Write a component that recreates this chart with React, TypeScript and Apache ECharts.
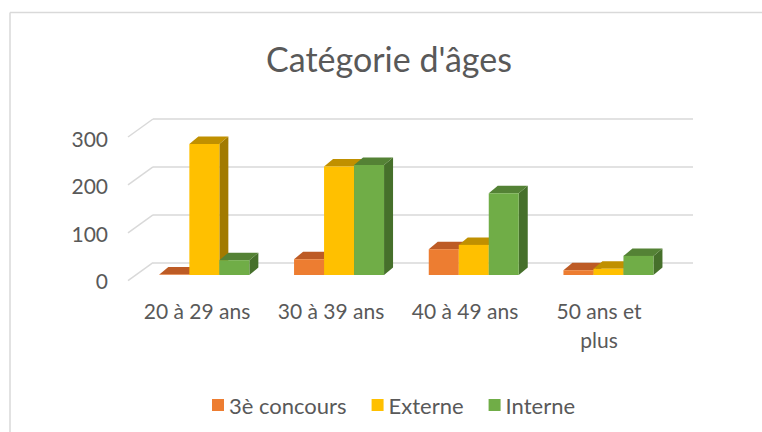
import React, { useEffect, useRef } from 'react';
import * as echarts from 'echarts';

const categories = ['20 à 29 ans', '30 à 39 ans', '40 à 49 ans', '50 ans et\nplus'];
const concours3 = [1, 33, 54, 10];
const externe = [274, 227, 63, 13];
const interne = [31, 230, 171, 40];
const yTicks = [0, 100, 200, 300];
const seriesNames = ['3è concours', 'Externe', 'Interne'];
const seriesValues = [concours3, externe, interne];
const chartTitle = "Catégorie d'âges";

const FONT = 'Lato, "Open Sans", sans-serif';
const TEXT = '#595959';
const GRID = '#d9d9d9';

const palette = [
  { front: '#ED7D31', top: '#BD5B25', side: '#A64F1E' },
  { front: '#FFC000', top: '#C09000', side: '#A27A00' },
  { front: '#70AD47', top: '#548235', side: '#46702B' },
];

const DX = 9;
const DY = -7.5;
const BAR_FRAC = 30 / 134.7;

function barRenderer(sIdx: number) {
  return (params: any, api: any) => {
    const cat = api.value(0);
    const v = api.value(1);
    const top = api.coord([cat, v]);
    const base = api.coord([cat, 0]);
    const band = api.size([1, 0])[0];
    const bw = band * BAR_FRAC;
    const x0 = top[0] + (sIdx - 1.5) * bw;
    const x1 = x0 + bw;
    const yt = top[1];
    const yb = base[1];
    const c = palette[sIdx];
    return {
      type: 'group',
      children: [
        { type: 'polygon', shape: { points: [[x1, yt], [x1 + DX, yt + DY], [x1 + DX, yb + DY], [x1, yb]] }, style: { fill: c.side } },
        { type: 'polygon', shape: { points: [[x0, yt], [x1, yt], [x1 + DX, yt + DY], [x0 + DX, yt + DY]] }, style: { fill: c.top } },
        { type: 'rect', shape: { x: x0, y: yt, width: bw, height: Math.max(0, yb - yt) }, style: { fill: c.front } },
      ],
    };
  };
}

export default function App() {
  const ref = useRef<HTMLDivElement>(null);
  useEffect(() => {
    document.body.style.margin = '0';
    const chart = echarts.init(ref.current!, null, { renderer: 'svg' });
    const hiddenCat = (gi: number) => ({
      type: 'category', gridIndex: gi, data: categories, show: false, boundaryGap: true,
    });
    const option: any = {
      animation: false,
      backgroundColor: '#ffffff',
      textStyle: { fontFamily: FONT },
      graphic: [
        { type: 'line', shape: { x1: 10, y1: 12.5, x2: 762, y2: 12.5 }, style: { stroke: GRID, lineWidth: 1.5 } },
        { type: 'line', shape: { x1: 10, y1: 12.5, x2: 10, y2: 432 }, style: { stroke: GRID, lineWidth: 1.5 } },
        {
          type: 'text', x: 389, y: 58,
          style: { text: chartTitle, fill: TEXT, font: `34px ${FONT}`, textAlign: 'center', textVerticalAlign: 'middle' },
        },
      ],
      legend: {
        data: seriesNames,
        left: 207, top: 389,
        icon: 'rect', itemWidth: 12, itemHeight: 12, itemGap: 25,
        textStyle: { color: TEXT, fontSize: 22, fontFamily: FONT },
      },
      grid: [
        { left: 137, top: 131.6, width: 538.8, height: 143.4 },
        { left: 153, top: 119, width: 540, height: 143.7 },
        { left: 130, top: 138, width: 536, height: 142.5 },
      ],
      xAxis: [
        hiddenCat(0),
        hiddenCat(1),
        {
          type: 'category', gridIndex: 2, data: categories,
          axisLine: { show: false }, axisTick: { show: false },
          axisLabel: { color: TEXT, fontSize: 21, fontFamily: FONT, margin: 15, lineHeight: 29, interval: 0 },
        },
      ],
      yAxis: [
        { type: 'value', gridIndex: 0, min: 0, max: 300, interval: 100, show: false },
        {
          type: 'value', gridIndex: 1, min: 0, max: 300, interval: 100,
          axisLabel: { show: false }, axisLine: { show: false }, axisTick: { show: false },
          splitLine: { show: true, lineStyle: { color: GRID, width: 1.5 } },
        },
        {
          type: 'value', gridIndex: 2, min: 0, max: 300, interval: 100,
          axisLine: { show: false }, axisTick: { show: false }, splitLine: { show: false },
          axisLabel: { color: TEXT, fontSize: 21, fontFamily: FONT, margin: 22 },
        },
      ],
      series: [
        {
          type: 'custom', name: 'diag', xAxisIndex: 1, yAxisIndex: 1, z: 1, silent: true,
          data: yTicks.map((v) => [0, v]),
          renderItem: (params: any, api: any) => {
            const p = api.coord([0, api.value(1)]);
            const x = params.coordSys.x;
            return { type: 'line', shape: { x1: x, y1: p[1], x2: x - 25, y2: p[1] + 18 }, style: { stroke: GRID, lineWidth: 1.5 } };
          },
        },
        ...seriesNames.map((name, i) => ({
          type: 'custom', name, xAxisIndex: 0, yAxisIndex: 0, z: 3,
          itemStyle: { color: palette[i].front },
          encode: { x: 0, y: 1 },
          data: seriesValues[i].map((v, k) => [k, v]),
          renderItem: barRenderer(i),
        })),
      ],
    };
    chart.setOption(option);
    return () => chart.dispose();
  }, []);
  return <div ref={ref} style={{ width: 762, height: 432 }} />;
}
